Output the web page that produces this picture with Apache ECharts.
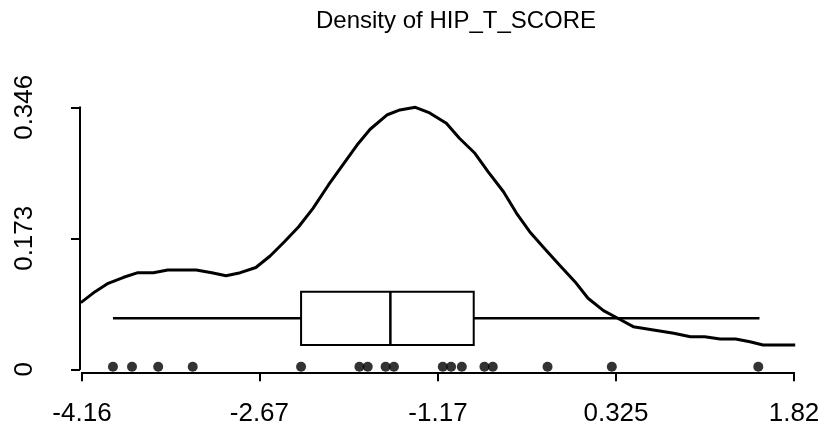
<!DOCTYPE html>
<html>
<head>
<meta charset="utf-8">
<title>Density of HIP_T_SCORE</title>
<script src="https://cdn.jsdelivr.net/npm/echarts@6/dist/echarts.min.js"></script>
<style>
  html, body { margin: 0; padding: 0; background: #fff; }
  #chart { width: 825px; height: 437px; }
</style>
</head>
<body>
<div id="chart"></div>
<script>
// Axis ticks and their printed labels
const xTickValues = [-4.16, -2.67, -1.17, 0.325, 1.82];
const xTickLabels = ['-4.16', '-2.67', '-1.17', '0.325', '1.82'];
const yTickValues = [0, 0.173, 0.346];
const yTickLabels = ['0', '0.173', '0.346'];

// Kernel density estimate of HIP_T_SCORE
const densityX = [
  -4.17, -4.05, -3.94, -3.81, -3.69, -3.56, -3.44, -3.32, -3.20, -3.07,
  -2.95, -2.83, -2.70, -2.58, -2.46, -2.34, -2.22, -2.09, -1.98, -1.85,
  -1.74, -1.60, -1.49, -1.36, -1.24, -1.10, -0.99, -0.86, -0.75, -0.62,
  -0.51, -0.40, -0.27, -0.15, -0.02, 0.09, 0.22, 0.34, 0.47, 0.64,
  0.81, 0.95, 1.07, 1.20, 1.33, 1.45, 1.56, 1.70, 1.83
];
const densityY = [
  0.088, 0.1025, 0.1136, 0.1215, 0.1276, 0.1276, 0.1311, 0.1311, 0.1311, 0.1276,
  0.1236, 0.1276, 0.1344, 0.1496, 0.1685, 0.1883, 0.2126, 0.2434, 0.2676, 0.2962,
  0.317, 0.3358, 0.3425, 0.346, 0.3385, 0.3249, 0.3051, 0.2853, 0.261, 0.2345,
  0.206, 0.1817, 0.1585, 0.1377, 0.1157, 0.0938, 0.0774, 0.0674, 0.0563, 0.0519,
  0.0475, 0.0431, 0.0431, 0.04, 0.04, 0.0364, 0.0321, 0.0321, 0.0321
];

// Individual observations (rug)
const observations = [
  -3.90, -3.74, -3.52, -3.23, -2.32, -1.83, -1.76, -1.61, -1.54,
  -1.13, -1.06, -0.97, -0.78, -0.71, -0.25, 0.29, 1.52
];

// Box plot summary: min, Q1, median, Q3, max
const boxStats = [-3.90, -2.32, -1.57, -0.87, 1.53];

// Vertical placement of the box (in density units)
const BOX_LEVEL = 0.0673;
const BOX_HALF = 0.0352;

const FONT = '"Liberation Sans", Arial, Helvetica, sans-serif';
const INK = '#000';

function labelFor(values, labels, v) {
  let best = 0;
  for (let i = 1; i < values.length; i++) {
    if (Math.abs(values[i] - v) < Math.abs(values[best] - v)) best = i;
  }
  return labels[best];
}

const chart = echarts.init(document.getElementById('chart'), null, { renderer: 'canvas' });

chart.setOption({
  backgroundColor: '#fff',
  animation: false,
  title: {
    text: 'Density of HIP_T_SCORE',
    left: 311,
    top: 4,
    textStyle: { fontFamily: FONT, fontSize: 24, fontWeight: 'normal', color: INK }
  },
  grid: { left: 82, right: 31, top: 107.3, bottom: 67.7 },
  xAxis: {
    type: 'value',
    min: xTickValues[0],
    max: xTickValues[xTickValues.length - 1],
    offset: 3,
    axisLine: { show: true, onZero: false, lineStyle: { color: INK, width: 2 } },
    axisTick: { show: true, length: 9, customValues: xTickValues, lineStyle: { color: INK, width: 2 } },
    axisLabel: {
      customValues: xTickValues,
      formatter: v => labelFor(xTickValues, xTickLabels, v),
      fontFamily: FONT, fontSize: 26, color: INK, margin: 29
    },
    splitLine: { show: false }
  },
  yAxis: {
    type: 'value',
    min: yTickValues[0],
    max: yTickValues[yTickValues.length - 1],
    offset: 2,
    axisLine: { show: true, onZero: false, lineStyle: { color: INK, width: 2 } },
    axisTick: { show: true, length: 9, customValues: yTickValues, lineStyle: { color: INK, width: 2 } },
    axisLabel: {
      customValues: yTickValues,
      formatter: v => labelFor(yTickValues, yTickLabels, v),
      rotate: 90,
      fontFamily: FONT, fontSize: 26, color: INK, margin: 42
    },
    splitLine: { show: false }
  },
  series: [
    {
      name: 'box',
      type: 'custom',
      clip: false,
      data: [boxStats],
      dimensions: ['min', 'q1', 'median', 'q3', 'max'],
      encode: { x: [0, 1, 2, 3, 4] },
      renderItem: function (params, api) {
        const mn = api.value(0), q1 = api.value(1), md = api.value(2),
              q3 = api.value(3), mx = api.value(4);
        const yMid = api.coord([q1, BOX_LEVEL])[1];
        const yTop = api.coord([q1, BOX_LEVEL + BOX_HALF])[1];
        const yBot = api.coord([q1, BOX_LEVEL - BOX_HALF])[1];
        const xMin = api.coord([mn, BOX_LEVEL])[0];
        const xQ1 = api.coord([q1, BOX_LEVEL])[0];
        const xMd = api.coord([md, BOX_LEVEL])[0];
        const xQ3 = api.coord([q3, BOX_LEVEL])[0];
        const xMax = api.coord([mx, BOX_LEVEL])[0];
        const stroke = { stroke: INK, lineWidth: 2.5, fill: null };
        return {
          type: 'group',
          children: [
            { type: 'line', shape: { x1: xMin, y1: yMid, x2: xQ1, y2: yMid }, style: stroke },
            { type: 'line', shape: { x1: xQ3, y1: yMid, x2: xMax, y2: yMid }, style: stroke },
            { type: 'rect', shape: { x: xQ1, y: yTop, width: xQ3 - xQ1, height: yBot - yTop },
              style: { stroke: INK, lineWidth: 2, fill: '#fff' } },
            { type: 'line', shape: { x1: xMd, y1: yTop, x2: xMd, y2: yBot }, style: stroke }
          ]
        };
      },
      z: 2
    },
    {
      name: 'density',
      type: 'line',
      clip: false,
      showSymbol: false,
      smooth: false,
      data: densityX.map((x, i) => [x, densityY[i]]),
      lineStyle: { color: INK, width: 3 },
      z: 3
    },
    {
      name: 'observations',
      type: 'scatter',
      clip: false,
      symbol: 'circle',
      symbolSize: 10,
      symbolOffset: [0, -2.6],
      data: observations.map(v => [v, 0]),
      itemStyle: { color: INK },
      z: 4
    }
  ]
});
</script>
</body>
</html>
